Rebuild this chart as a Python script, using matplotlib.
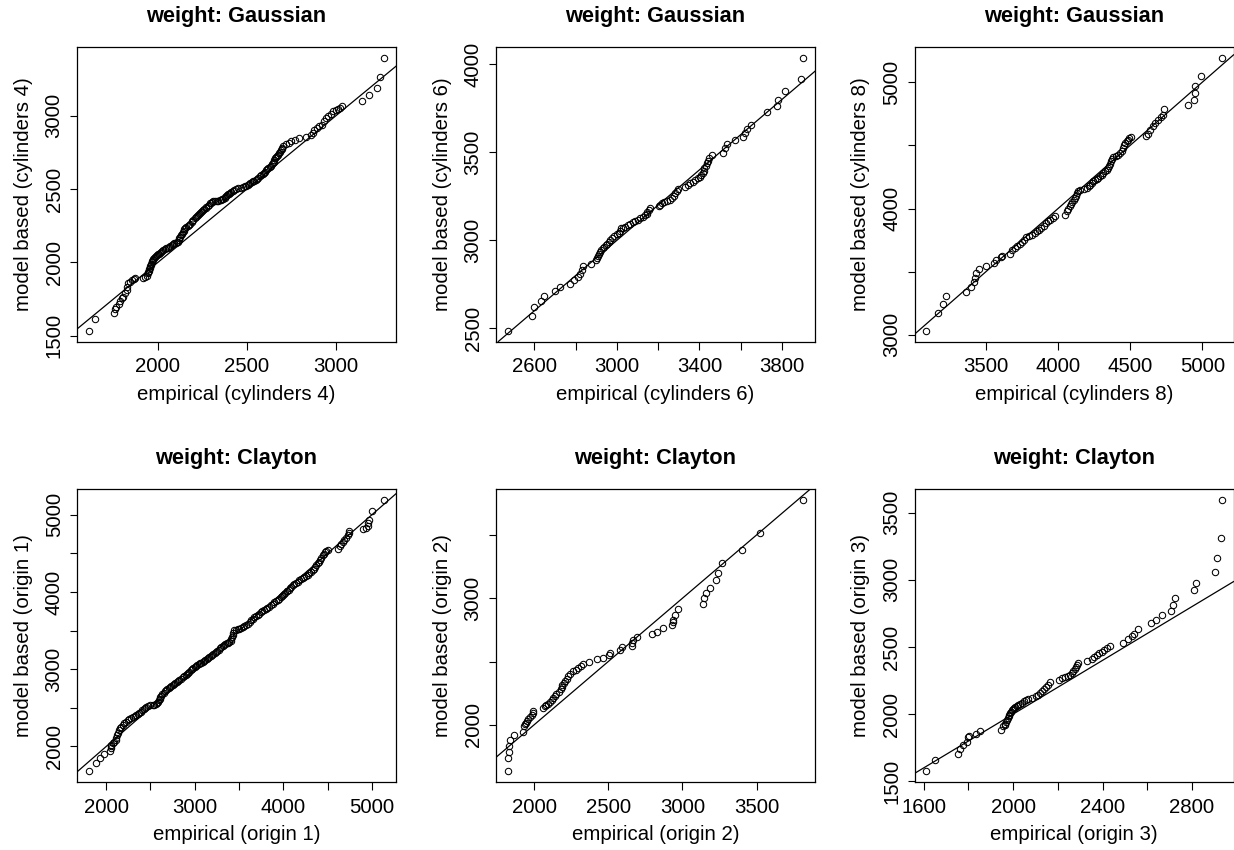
import matplotlib
matplotlib.use("Agg")
import matplotlib.pyplot as plt

plt.rcParams['font.family'] = ['Liberation Sans', 'DejaVu Sans']

# ---------------- data (sorted quantile pairs) ----------------
cyl4_emp = [1613, 1649, 1755, 1760, 1768, 1780, 1790, 1800, 1806, 1815, 1825, 1830, 1834, 1845, 1853,
            1865, 1875, 1918, 1930, 1940,
            1946, 1948, 1950, 1952, 1955, 1957, 1960, 1962, 1965, 1968, 1972, 1976, 1980, 1985, 1990,
            1995, 2000, 2005, 2011, 2018, 2025, 2032, 2040, 2048, 2055, 2062, 2070, 2078, 2086, 2093,
            2100, 2107, 2114, 2118, 2122, 2126, 2130, 2135, 2140, 2145, 2150, 2155, 2161, 2168, 2175,
            2182, 2190, 2195, 2200, 2208, 2215, 2220, 2225, 2230, 2235, 2242, 2250, 2256, 2262, 2268,
            2273, 2282, 2290, 2295, 2300, 2305, 2310, 2320, 2330, 2338, 2347, 2353, 2360, 2368, 2375,
            2380, 2385, 2390, 2395, 2400, 2405, 2412, 2420, 2430, 2441, 2453, 2465, 2476, 2487, 2496,
            2505, 2512, 2520, 2527, 2534, 2542, 2550, 2558, 2565, 2572, 2580, 2588, 2595, 2602, 2609,
            2615, 2620, 2628, 2635, 2640, 2646, 2650, 2655, 2660, 2665, 2670, 2674, 2680, 2685, 2690,
            2695, 2698, 2702,
            2720, 2735, 2749, 2770, 2795, 2830, 2861, 2870,
            2879, 2895, 2907, 2920, 2935, 2945, 2953, 2970, 2981, 3000, 3009, 3025, 3037, 3149, 3187,
            3230, 3249, 3271]
cyl4_mod = [1536, 1616, 1655, 1680, 1700, 1715, 1735, 1755, 1768, 1790, 1814, 1835, 1859, 1870, 1882,
            1890, 1893, 1893, 1898, 1905,
            1930, 1938, 1945, 1955, 1965, 1975, 1985, 1992, 2000, 2008, 2015, 2022, 2030, 2038, 2045,
            2050, 2055, 2060, 2064, 2070, 2075, 2082, 2090, 2096, 2102, 2108, 2115, 2122, 2128, 2132,
            2135, 2139, 2143, 2155, 2165, 2175, 2185, 2195, 2205, 2215, 2225, 2233, 2240, 2248, 2255,
            2265, 2275, 2283, 2290, 2300, 2310, 2316, 2322, 2329, 2336, 2343, 2350, 2358, 2365, 2372,
            2380, 2388, 2395, 2402, 2408, 2412, 2416, 2418, 2420, 2421, 2423, 2427, 2430, 2435, 2439,
            2445, 2450, 2458, 2465, 2470, 2475, 2482, 2490, 2495, 2500, 2505, 2510, 2514, 2518, 2523,
            2528, 2534, 2540, 2546, 2552, 2558, 2565, 2572, 2578, 2587, 2595, 2603, 2610, 2620, 2630,
            2638, 2645, 2652, 2660, 2668, 2677, 2688, 2700, 2710, 2720, 2727, 2734, 2745, 2755, 2765,
            2775, 2783, 2791,
            2805, 2815, 2825, 2835, 2848, 2855, 2871, 2885,
            2905, 2915, 2927, 2940, 2966, 2985, 3000, 3015, 3034, 3040, 3045, 3055, 3068, 3102, 3141,
            3186, 3261, 3394]

cyl6_emp = [2471, 2589, 2597, 2634, 2648, 2698, 2726, 2774, 2790, 2810, 2823, 2831, 2834, 2874, 2900,
            2903, 2906, 2912, 2919, 2925, 2932, 2939, 2945, 2952, 2960, 2965, 2975, 2984, 3000, 3008,
            3015, 3019, 3030, 3040, 3052, 3065, 3078, 3089, 3100, 3113, 3125, 3137, 3145, 3148, 3155,
            3158, 3202, 3210, 3218, 3230, 3242, 3255, 3266, 3275, 3282, 3290, 3298, 3331, 3345, 3355,
            3368, 3379, 3392, 3403, 3410, 3416, 3420, 3423, 3430, 3436, 3442, 3448, 3463, 3516, 3524,
            3532, 3573, 3610, 3621, 3632, 3648, 3726, 3778, 3779, 3815, 3890, 3903]
cyl6_mod = [2487, 2568, 2620, 2654, 2684, 2711, 2734, 2753, 2776, 2791, 2810, 2833, 2855, 2867, 2886,
            2897, 2909, 2920, 2933, 2945, 2955, 2962, 2972, 2981, 2993, 3004, 3014, 3023, 3033, 3042,
            3055, 3067, 3072, 3076, 3085, 3095, 3103, 3110, 3117, 3124, 3133, 3143, 3150, 3162, 3172,
            3181, 3194, 3200, 3209, 3216, 3224, 3230, 3238, 3252, 3266, 3278, 3289, 3304, 3313, 3323,
            3333, 3342, 3351, 3361, 3370, 3380, 3395, 3409, 3423, 3437, 3452, 3466, 3485, 3494, 3523,
            3547, 3570, 3585, 3612, 3631, 3656, 3726, 3760, 3798, 3850, 3916, 4036]

cyl8_emp = [3087, 3167, 3202, 3221, 3364, 3398, 3421, 3426, 3433, 3452, 3502, 3558, 3569, 3604, 3611,
            3664, 3680, 3700, 3719, 3738, 3750, 3761, 3779, 3800, 3821, 3838, 3853, 3868, 3881, 3900,
            3918, 3932, 3946, 3962, 3980, 4050, 4061, 4070, 4080, 4088, 4096, 4108, 4119, 4125, 4130,
            4142, 4153, 4178, 4200, 4212, 4223, 4235, 4246, 4258, 4269, 4280, 4292, 4303, 4315, 4326,
            4338, 4348, 4357, 4363, 4368, 4374, 4380, 4400, 4419, 4430, 4442, 4450, 4458, 4468, 4477,
            4486, 4495, 4504, 4611, 4627, 4638, 4657, 4676, 4696, 4713, 4731, 4738, 4904, 4946, 4950,
            4952, 4992, 5135]
cyl8_mod = [3034, 3172, 3246, 3304, 3343, 3378, 3415, 3449, 3489, 3520, 3542, 3568, 3594, 3613, 3626,
            3642, 3674, 3688, 3700, 3721, 3737, 3753, 3774, 3784, 3793, 3806, 3819, 3832, 3845, 3866,
            3885, 3898, 3911, 3926, 3943, 3951, 3978, 3998, 4017, 4033, 4049, 4066, 4083, 4103, 4123,
            4136, 4149, 4155, 4162, 4175, 4189, 4202, 4215, 4226, 4236, 4245, 4255, 4268, 4281, 4295,
            4308, 4321, 4334, 4354, 4374, 4390, 4406, 4416, 4427, 4440, 4453, 4480, 4506, 4519, 4532,
            4545, 4559, 4570, 4575, 4593, 4625, 4657, 4680, 4704, 4724, 4744, 4789, 4823, 4863, 4915,
            4968, 5048, 5193]

org1_emp = [1804, 1887, 1925, 1970, 2045, 2049, 2052, 2060, 2075, 2090, 2113, 2116, 2120, 2130, 2143,
            2155, 2169, 2190, 2205, 2226, 2245, 2262, 2282, 2300, 2320, 2338, 2355, 2372, 2395, 2410,
            2425, 2440, 2451, 2475, 2500, 2525, 2545, 2560, 2572, 2583, 2595, 2605, 2613, 2620, 2635,
            2650, 2665, 2677, 2690, 2705, 2720, 2736, 2752, 2765, 2780, 2795, 2810, 2827, 2845, 2865,
            2884, 2900, 2915, 2928, 2940, 2955, 2968, 2985, 3000, 3015, 3030, 3045, 3060, 3075, 3090,
            3105, 3120, 3135, 3150, 3166, 3180, 3195, 3210, 3225, 3241, 3255, 3270, 3285, 3300, 3316,
            3330, 3345, 3360, 3375, 3391, 3405, 3415, 3422, 3429, 3438, 3448, 3470, 3490, 3504, 3525,
            3545, 3562, 3579, 3600, 3620, 3638, 3654, 3672, 3690, 3710, 3730, 3748, 3765, 3785, 3805,
            3822, 3840, 3860, 3880, 3900, 3918, 3938, 3955, 3970, 3985, 3998, 4012, 4025, 4038, 4048,
            4060, 4075, 4090, 4106, 4125, 4145, 4163, 4181, 4200, 4220, 4238, 4256, 4275, 4295, 4312,
            4331, 4345, 4360, 4375, 4388, 4400, 4412, 4428, 4444, 4458, 4470, 4482, 4500, 4624, 4637,
            4651, 4670, 4688, 4705, 4726, 4740, 4745, 4903, 4930, 4952, 4958, 4963, 5000, 5140]
org1_mod = [1677, 1785, 1849, 1905, 1944, 1975, 2000, 2020, 2043, 2062, 2086, 2110, 2151, 2180, 2215,
            2235, 2258, 2280, 2300, 2323, 2338, 2352, 2366, 2380, 2395, 2409, 2420, 2433, 2452, 2470,
            2488, 2505, 2517, 2525, 2532, 2536, 2538, 2552, 2567, 2581, 2600, 2620, 2638, 2654, 2675,
            2695, 2715, 2732, 2748, 2760, 2772, 2785, 2796, 2808, 2820, 2835, 2848, 2861, 2876, 2895,
            2913, 2928, 2943, 2956, 2969, 2985, 3000, 3015, 3028, 3042, 3055, 3066, 3076, 3087, 3098,
            3108, 3118, 3130, 3142, 3154, 3166, 3180, 3196, 3212, 3227, 3240, 3255, 3270, 3285, 3300,
            3312, 3323, 3334, 3345, 3356, 3370, 3395, 3420, 3442, 3476, 3507, 3515, 3522, 3528, 3540,
            3552, 3562, 3571, 3590, 3610, 3632, 3657, 3672, 3686, 3704, 3722, 3738, 3755, 3771, 3787,
            3800, 3813, 3832, 3851, 3867, 3883, 3900, 3916, 3932, 3948, 3964, 3980, 3994, 4008, 4020,
            4032, 4052, 4070, 4088, 4105, 4120, 4136, 4153, 4165, 4178, 4190, 4204, 4223, 4242, 4262,
            4282, 4305, 4330, 4355, 4376, 4395, 4415, 4445, 4475, 4495, 4515, 4530, 4549, 4562, 4595,
            4626, 4652, 4678, 4705, 4734, 4765, 4790, 4820, 4835, 4850, 4890, 4927, 5048, 5194]

org2_emp = [1823, 1824, 1830, 1833, 1838, 1865, 1924, 1933, 1940, 1946, 1955, 1962, 1975, 1984, 1990,
            1996, 2063, 2072, 2081, 2095, 2108, 2118, 2126, 2138, 2148, 2165, 2180, 2186, 2191, 2200,
            2209, 2220, 2231, 2245, 2260, 2280, 2299, 2315, 2328, 2373, 2427, 2462, 2505, 2510, 2579,
            2593, 2658, 2662, 2665, 2691, 2792, 2826, 2867, 2932, 2935, 2938, 2950, 2972, 3136, 3147,
            3158, 3185, 3226, 3241, 3264, 3403, 3522, 3814]
org2_mod = [1632, 1737, 1789, 1834, 1882, 1921, 1947, 1987, 2003, 2018, 2032, 2045, 2062, 2079, 2096,
            2113, 2132, 2145, 2158, 2168, 2179, 2195, 2211, 2226, 2242, 2262, 2282, 2300, 2316, 2333,
            2350, 2366, 2382, 2405, 2426, 2437, 2447, 2465, 2482, 2500, 2518, 2529, 2548, 2566, 2592,
            2613, 2624, 2650, 2671, 2692, 2716, 2737, 2763, 2790, 2810, 2829, 2869, 2916, 2953, 3000,
            3040, 3084, 3145, 3203, 3282, 3382, 3519, 3777]

org3_emp = [1612, 1649, 1753, 1764, 1776, 1794, 1798, 1801, 1834, 1850, 1945, 1957, 1962, 1965, 1968,
            1972, 1976, 1980, 1984, 1987, 1991, 1995, 2000, 2005, 2010, 2017, 2023, 2029, 2038, 2047,
            2058, 2069, 2085, 2103, 2112, 2121, 2130, 2139, 2148, 2158, 2166, 2207, 2220, 2233, 2245,
            2255, 2262, 2270, 2276, 2282, 2287, 2292, 2330, 2352, 2363, 2374, 2386, 2397, 2408, 2419,
            2434, 2490, 2516, 2530, 2542, 2560, 2617, 2638, 2667, 2705, 2714, 2724, 2810, 2818, 2903,
            2913, 2932, 2933]
org3_mod = [1574, 1661, 1706, 1740, 1773, 1790, 1830, 1839, 1854, 1872, 1884, 1909, 1920, 1929, 1940,
            1953, 1968, 1983, 1996, 2008, 2018, 2028, 2037, 2045, 2055, 2063, 2070, 2077, 2086, 2095,
            2104, 2112, 2122, 2132, 2145, 2157, 2172, 2186, 2203, 2219, 2238, 2256, 2266, 2276, 2285,
            2293, 2305, 2318, 2334, 2350, 2365, 2380, 2397, 2409, 2425, 2442, 2455, 2466, 2478, 2489,
            2509, 2528, 2558, 2578, 2595, 2632, 2677, 2702, 2739, 2771, 2813, 2863, 2920, 2979, 3061,
            3160, 3309, 3594]

titles = ["weight: Gaussian"] * 3 + ["weight: Clayton"] * 3
groups = ["cylinders 4", "cylinders 6", "cylinders 8", "origin 1", "origin 2", "origin 3"]

x_ticks = [[2000, 2500, 3000],
           [2600, 2800, 3000, 3200, 3400, 3600, 3800],
           [3500, 4000, 4500, 5000],
           [2000, 2500, 3000, 3500, 4000, 4500, 5000],
           [2000, 2500, 3000, 3500],
           [1600, 1800, 2000, 2200, 2400, 2600, 2800]]
x_labels = [["2000", "2500", "3000"],
            ["2600", "", "3000", "", "3400", "", "3800"],
            ["3500", "4000", "4500", "5000"],
            ["2000", "", "3000", "", "4000", "", "5000"],
            ["2000", "2500", "3000", "3500"],
            ["1600", "", "2000", "", "2400", "", "2800"]]
y_ticks = [[1500, 2000, 2500, 3000],
           [2500, 3000, 3500, 4000],
           [3000, 3500, 4000, 4500, 5000],
           [2000, 2500, 3000, 3500, 4000, 4500, 5000],
           [2000, 2500, 3000, 3500],
           [1500, 2000, 2500, 3000, 3500]]
y_labels = [["1500", "2000", "2500", "3000"],
            ["2500", "3000", "3500", "4000"],
            ["3000", "", "4000", "", "5000"],
            ["2000", "", "3000", "", "4000", "", "5000"],
            ["2000", "", "3000", ""],
            ["1500", "2000", "2500", "3000", "3500"]]

data = [(cyl4_emp, cyl4_mod), (cyl6_emp, cyl6_mod), (cyl8_emp, cyl8_mod),
        (org1_emp, org1_mod), (org2_emp, org2_mod), (org3_emp, org3_mod)]

# ---------------- layout ----------------
W, H = 1234, 850
fig = plt.figure(figsize=(W / 100, H / 100), dpi=100)

col_left = [77, 496, 914.5]
row_top = [47, 489]
row_bot = [341.5, 782.3]
pw = 319

AX_FS = 14.7
TITLE_FS = 15.7

for i, (emp, mod) in enumerate(data):
    r, c = divmod(i, 3)
    ph = row_bot[r] - row_top[r]
    ax = fig.add_axes([col_left[c] / W, 1 - row_bot[r] / H, pw / W, ph / H])
    ax.plot(emp, mod, 'o', mfc='none', mec='black', ms=4.6, mew=0.75, zorder=3)
    ax.axline((0, 0), slope=1, color='black', lw=0.9, zorder=2)

    xr = max(emp) - min(emp)
    yr = max(mod) - min(mod)
    ax.set_xlim(min(emp) - 0.04 * xr, max(emp) + 0.04 * xr)
    ax.set_ylim(min(mod) - 0.04 * yr, max(mod) + 0.04 * yr)

    ax.set_xticks(x_ticks[i])
    ax.set_xticklabels(x_labels[i])
    ax.set_yticks(y_ticks[i])
    ax.set_yticklabels(y_labels[i], rotation=90, va='center')
    ax.tick_params(axis='both', direction='out', length=5.4, width=0.8,
                   labelsize=AX_FS, colors='black')
    ax.tick_params(axis='x', pad=6)
    ax.tick_params(axis='y', pad=4.2)
    for s in ax.spines.values():
        s.set_linewidth(0.9)
        s.set_color('black')

    ax.set_title(titles[i], fontsize=TITLE_FS, fontweight='bold', pad=18)
    ax.set_xlabel(f"empirical ({groups[i]})", fontsize=AX_FS)
    ax.set_ylabel(f"model based ({groups[i]})", fontsize=AX_FS)
    ax.xaxis.set_label_coords(0.5, -43 / ph)
    ax.yaxis.set_label_coords(-44.4 / pw, 0.5)

fig.savefig("out.png", dpi=100)
